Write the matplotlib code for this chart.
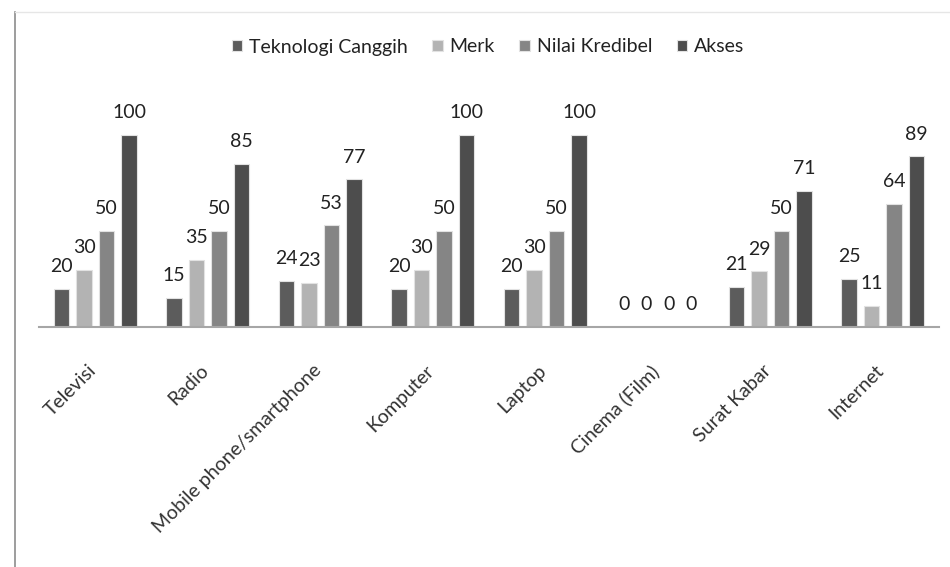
import matplotlib.pyplot as plt
import matplotlib.transforms as mtransforms
import numpy as np
from matplotlib.lines import Line2D

# ---------------- Data ---------------- #
media = ["Televisi", "Radio", "Mobile phone/smartphone", "Komputer",
         "Laptop", "Cinema (Film)", "Surat Kabar", "Internet"]
teknologi = [20, 15, 24, 20, 20, 0, 21, 25]
merk = [30, 35, 23, 30, 30, 0, 29, 11]
kredibel = [50, 50, 53, 50, 50, 0, 50, 64]
akses = [100, 85, 77, 100, 100, 0, 71, 89]

series = [
    ("Teknologi Canggih", teknologi, "#5c5c5c"),
    ("Merk", merk, "#b3b3b3"),
    ("Nilai Kredibel", kredibel, "#858585"),
    ("Akses", akses, "#4d4d4d"),
]

plt.rcParams['font.family'] = ['Lato', 'DejaVu Sans']

fig = plt.figure(figsize=(9.5, 5.67), dpi=100)
ax = fig.add_axes([39 / 950, 240 / 567, 900 / 950, 230 / 567])

x = np.arange(len(media))
width = 0.135
offsets = [-0.3, -0.1, 0.1, 0.3]

for (name, vals, color), off in zip(series, offsets):
    bars = ax.bar(x + off, vals, width, color=color, label=name,
                  edgecolor="#e2e2e2", linewidth=0.8, zorder=2)
    for b, v in zip(bars, vals):
        ax.annotate(str(v), (b.get_x() + b.get_width() / 2, v),
                    xytext=(0, 10), textcoords="offset points",
                    ha="center", va="bottom", fontsize=14, color="#222222")

ax.set_xlim(-0.5, len(media) - 0.5)
ax.set_ylim(0, 120)
ax.set_yticks([])
for s in ["top", "right", "left"]:
    ax.spines[s].set_visible(False)
ax.spines["bottom"].set_color("#a6a6a6")
ax.spines["bottom"].set_linewidth(1.5)

ax.set_xticks(x)
ax.set_xticklabels(media, rotation=45, ha="right", va="top",
                   rotation_mode="anchor", fontsize=14, color="#333333")
ax.tick_params(axis="x", length=0, pad=25)
shift = mtransforms.ScaledTranslation(-8 / 100, 0, fig.dpi_scale_trans)
for lbl in ax.get_xticklabels():
    lbl.set_transform(lbl.get_transform() + shift)

leg = fig.legend(loc="center", bbox_to_anchor=(488 / 950, 1 - 47 / 567), ncol=4,
                 frameon=False, fontsize=14, handlelength=0.55,
                 handleheight=0.55, handletextpad=0.35, columnspacing=1.25)
for t in leg.get_texts():
    t.set_color("#222222")

# frame lines of the chart area
fig.add_artist(Line2D([15 / 950, 15 / 950], [0, 1 - 12 / 567],
                      transform=fig.transFigure, color="#8c8c8c", lw=1.2))
fig.add_artist(Line2D([15 / 950, 1], [1 - 12 / 567, 1 - 12 / 567],
                      transform=fig.transFigure, color="#e6e6e6", lw=1.0))

fig.savefig("out.png", dpi=100)
